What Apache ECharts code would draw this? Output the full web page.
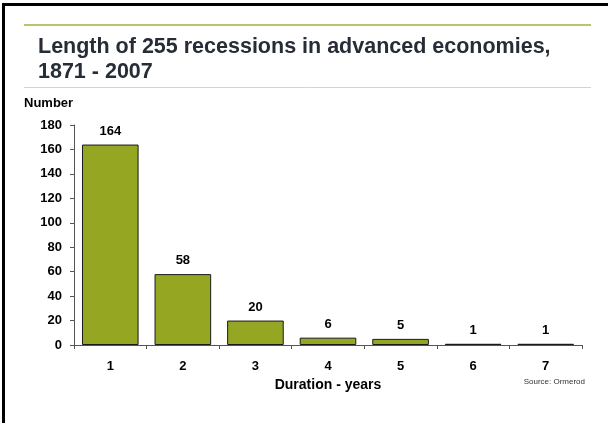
<!DOCTYPE html>
<html>
<head>
<meta charset="utf-8">
<style>
  html, body { margin: 0; padding: 0; background: #ffffff; }
  #chart { width: 608px; height: 423px; }
</style>
<script src="https://cdn.jsdelivr.net/npm/echarts@6/dist/echarts.min.js"></script>
</head>
<body>
<div id="chart"></div>
<script>
// Recession durations (years) and how many recessions lasted that long
const durations = ['1', '2', '3', '4', '5', '6', '7'];
const recessionCounts = [164, 58, 20, 6, 5, 1, 1];

const titleLines = ['Length of 255 recessions in advanced economies,', '1871 - 2007'];
const yAxisName = 'Number';
const xAxisName = 'Duration - years';
const sourceNote = 'Source: Ormerod';

const FONT = '"Liberation Sans", Arial, sans-serif';
const BAR_COLOR = '#95a622';

const chart = echarts.init(document.getElementById('chart'), null, { renderer: 'canvas' });

chart.setOption({
  animation: false,
  backgroundColor: '#ffffff',
  textStyle: { fontFamily: FONT },
  graphic: [
    // slide frame: heavy left and top edges
    { type: 'rect', shape: { x: 2, y: 3, width: 3, height: 423 }, style: { fill: '#000' } },
    { type: 'rect', shape: { x: 2, y: 3, width: 606, height: 3 }, style: { fill: '#000' } },
    // header rules
    { type: 'line', shape: { x1: 24, y1: 25, x2: 591, y2: 25 }, style: { stroke: '#9db43b', lineWidth: 1.5 } },
    { type: 'line', shape: { x1: 24, y1: 87.5, x2: 591, y2: 87.5 }, style: { stroke: '#cfd4d8', lineWidth: 1 } },
    // value-axis caption
    { type: 'text', left: 24, top: 97, style: { text: yAxisName, font: 'bold 13px ' + FONT, fill: '#000' } },
    // source credit
    { type: 'text', right: 23, top: 378, style: { text: sourceNote, font: '8px ' + FONT, fill: '#333' } }
  ],
  title: {
    text: titleLines.join('\n'),
    left: 33,
    top: 30,
    textStyle: {
      fontFamily: FONT,
      fontSize: 21.5,
      fontWeight: 'bold',
      color: '#262d36',
      lineHeight: 25
    }
  },
  grid: { left: 74, right: 26, top: 125, bottom: 78, containLabel: false },
  xAxis: {
    type: 'category',
    data: durations,
    name: xAxisName,
    nameLocation: 'middle',
    nameGap: 28,
    nameTextStyle: { fontFamily: FONT, fontSize: 14, fontWeight: 'bold', color: '#000' },
    axisLine: { lineStyle: { color: '#555', width: 1 } },
    axisTick: { show: true, length: 4, inside: false, lineStyle: { color: '#555' } },
    axisLabel: { fontFamily: FONT, fontSize: 13, fontWeight: 'bold', color: '#000', margin: 15 }
  },
  yAxis: {
    type: 'value',
    min: 0,
    max: 180,
    interval: 20,
    axisLine: { show: true, lineStyle: { color: '#555', width: 1 } },
    axisTick: { show: true, length: 4, lineStyle: { color: '#555' } },
    axisLabel: { fontFamily: FONT, fontSize: 13, fontWeight: 'bold', color: '#000', margin: 12 },
    splitLine: { show: false }
  },
  series: [{
    type: 'bar',
    data: recessionCounts,
    barCategoryGap: '22%',
    itemStyle: { color: BAR_COLOR, borderColor: '#1a1a1a', borderWidth: 1 },
    label: {
      show: true,
      position: 'top',
      distance: 7,
      fontFamily: FONT,
      fontSize: 13,
      fontWeight: 'bold',
      color: '#000'
    }
  }]
});
</script>
</body>
</html>
